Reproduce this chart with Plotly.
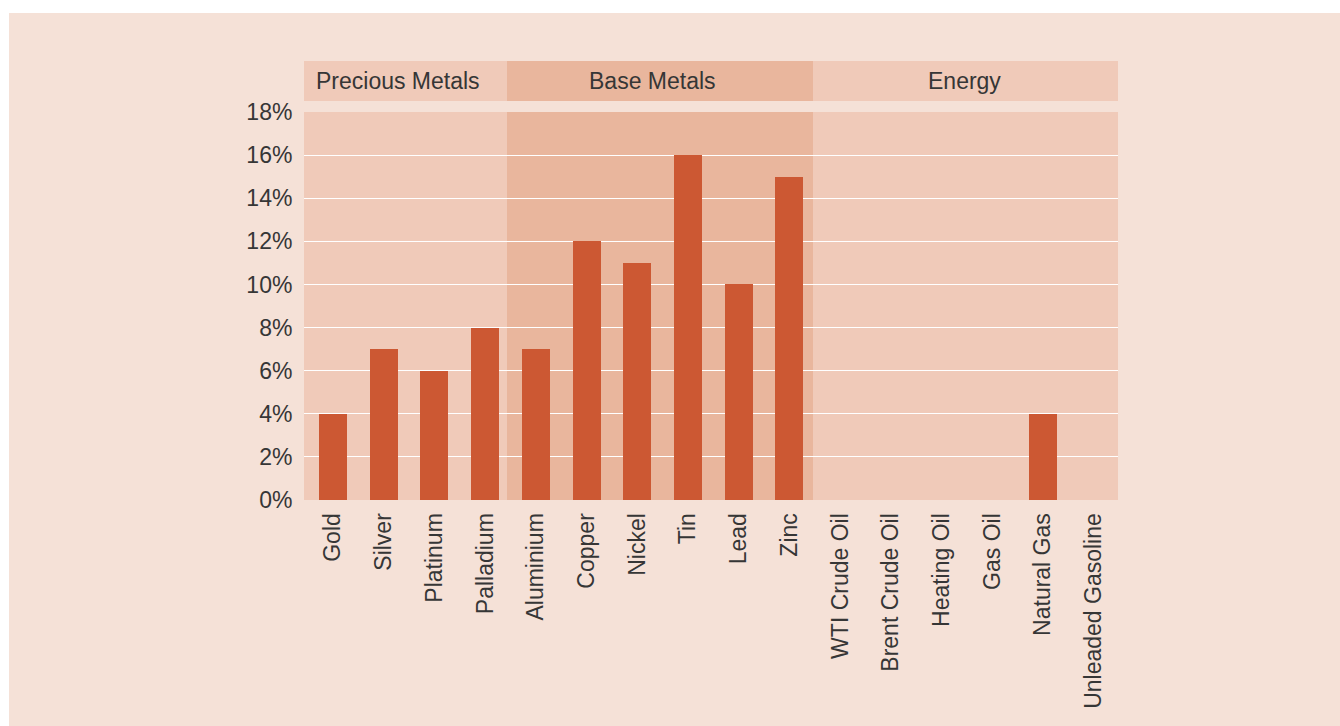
import plotly.graph_objects as go

categories = ["Gold", "Silver", "Platinum", "Palladium",
              "Aluminium", "Copper", "Nickel", "Tin", "Lead", "Zinc",
              "WTI Crude Oil", "Brent Crude Oil", "Heating Oil", "Gas Oil",
              "Natural Gas", "Unleaded Gasoline"]
values = [4, 7, 6, 8, 7, 12, 11, 16, 10, 15, 0, 0, 0, 0, 4, 0]
groups = ["Precious Metals", "Base Metals", "Energy"]
group_sizes = [4, 6, 6]
y_ticks = [0, 2, 4, 6, 8, 10, 12, 14, 16, 18]

PAGE_BG = "#f5e1d7"
LIGHT_BAND = "#f0cab9"
DARK_BAND = "#e9b69d"
BAR = "#cc5833"
TEXT = "#363636"
FONT = "Liberation Sans"
FS = 23

W, H = 1340, 726
L, R, T, B = 304, 1118, 112, 500  # plot area in pixels

xs = list(range(len(categories)))
x_lo, x_hi = -0.572, 15.48

fig = go.Figure()
fig.add_trace(go.Bar(x=xs, y=values, marker=dict(color=BAR, line=dict(width=0)),
                     width=0.55, hoverinfo="x+y"))

def px_x(p):
    return (p - L) / (R - L)

def px_y(p):
    return (B - p) / (B - T)

shapes = []
# page background with white strip on top/left
shapes.append(dict(type="rect", xref="paper", yref="paper", layer="below",
                   x0=px_x(9), x1=px_x(W + 5), y0=px_y(13), y1=px_y(H + 5),
                   fillcolor=PAGE_BG, line=dict(width=0)))

band_edges = [x_lo, 3.43, 9.466, x_hi]
band_colors = [LIGHT_BAND, DARK_BAND, LIGHT_BAND]
label_pos = [1.29, 6.31, 12.46]
annotations = []
for i, g in enumerate(groups):
    for (y0, y1) in [(0, 1), (px_y(101), px_y(61))]:
        shapes.append(dict(type="rect", xref="x", yref="paper", layer="below",
                           x0=band_edges[i], x1=band_edges[i + 1], y0=y0, y1=y1,
                           fillcolor=band_colors[i], line=dict(width=0)))
    annotations.append(dict(text=g, x=label_pos[i], xref="x", y=px_y(81), yref="paper",
                            showarrow=False, xanchor="center", yanchor="middle",
                            font=dict(family=FONT, size=FS, color=TEXT)))

fig.update_layout(
    width=W, height=H, autosize=False,
    margin=dict(l=L, r=W - R, t=T, b=H - B, pad=0),
    paper_bgcolor="white", plot_bgcolor="rgba(0,0,0,0)",
    showlegend=False, bargap=0,
    shapes=shapes, annotations=annotations,
    font=dict(family=FONT, size=FS, color=TEXT),
    xaxis=dict(range=[x_lo, x_hi], tickmode="array", tickvals=xs, ticktext=categories,
               tickangle=-90, showgrid=False, zeroline=False, showline=False,
               ticks="outside", ticklen=3, tickcolor="rgba(0,0,0,0)",
               tickfont=dict(family=FONT, size=FS, color=TEXT), fixedrange=True),
    yaxis=dict(range=[0, 18], tickmode="array", tickvals=y_ticks,
               ticktext=[f"{v}%" for v in y_ticks],
               showgrid=True, gridcolor="white", gridwidth=1, zeroline=False,
               showline=False, ticks="outside", ticklen=6, tickcolor="rgba(0,0,0,0)",
               tickfont=dict(family=FONT, size=FS, color=TEXT), fixedrange=True),
)

fig.write_html("out.html")
